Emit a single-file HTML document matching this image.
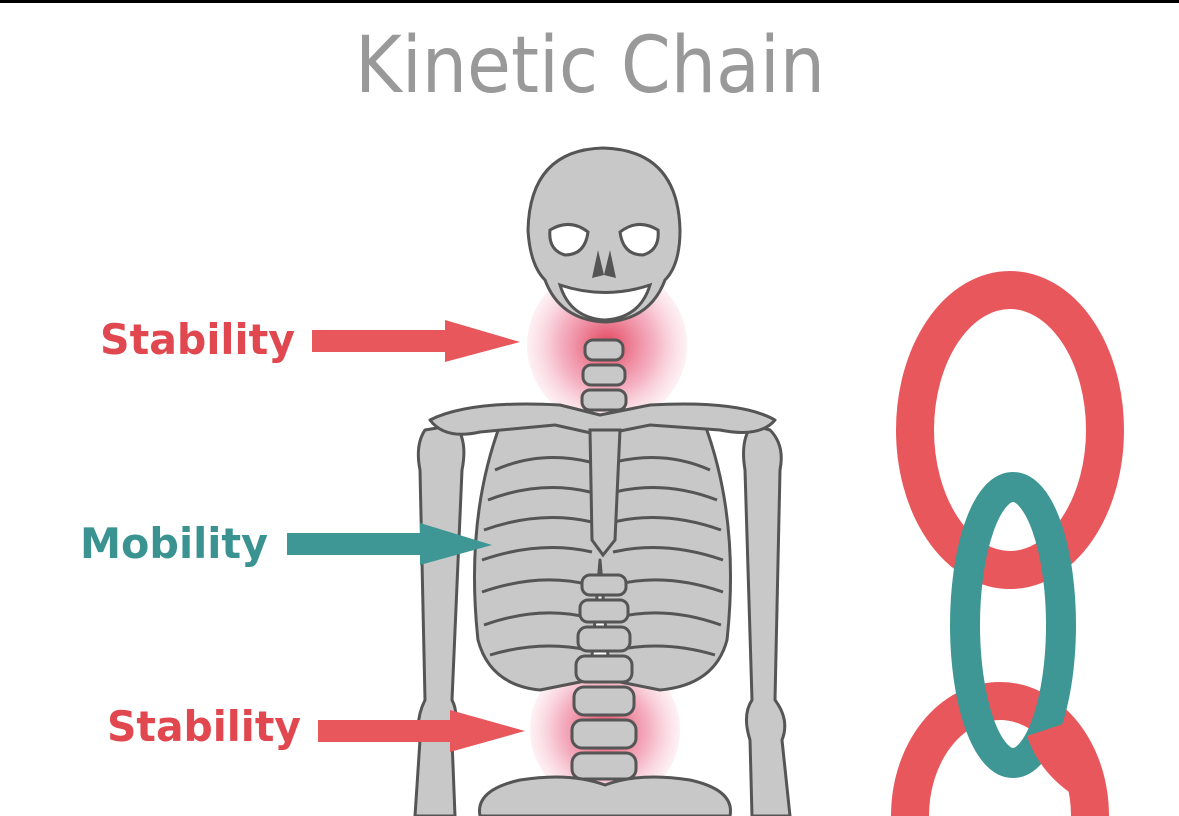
<!DOCTYPE html>
<html><head><style>
html,body{margin:0;padding:0;background:#fff;width:1179px;height:816px;overflow:hidden;}
body{position:relative;font-family:"DejaVu Sans","Liberation Sans",sans-serif;}
svg{display:block;}
</style></head><body>
<svg width="1179" height="816" viewBox="0 0 1179 816" xmlns="http://www.w3.org/2000/svg">
<defs>
<radialGradient id="rg"><stop offset="0" stop-color="#e0304a" stop-opacity="0.9"/><stop offset="0.6" stop-color="#e8557a" stop-opacity="0.45"/><stop offset="1" stop-color="#f3a0b8" stop-opacity="0.15"/></radialGradient>
<radialGradient id="tg"><stop offset="0" stop-color="#2aa7a8" stop-opacity="0.7"/><stop offset="1" stop-color="#aee0e0" stop-opacity="0.1"/></radialGradient>
</defs>
<rect x="0" y="0" width="1179" height="3" fill="#000"/>
<text x="355" y="92" font-size="78" fill="#999" textLength="470" lengthAdjust="spacingAndGlyphs">Kinetic Chain</text>

<circle cx="607" cy="345" r="80" fill="url(#rg)"/>
<circle cx="605" cy="730" r="75" fill="url(#rg)"/>
<ellipse cx="605" cy="540" rx="95" ry="65" fill="url(#tg)"/>

<g fill="#c8c8c8" stroke="#555" stroke-width="3" stroke-linejoin="round">
<path d="M425,430 Q415,445 420,470 L425,700 Q415,720 420,740 L415,816 L455,816 L452,740 Q460,715 452,700 L462,470 Q468,440 455,425 Z"/>
<path d="M770,430 Q785,445 780,470 L775,700 Q790,720 782,740 L790,816 L752,816 L750,740 Q742,715 752,700 L745,470 Q740,440 752,425 Z"/>
<path d="M500,425 Q465,520 478,640 Q490,685 540,690 L590,680 L600,560 L610,680 L660,690 Q715,685 727,640 Q740,520 705,425 Q650,410 605,425 Q555,410 500,425 Z"/>
<path d="M430,420 Q470,400 560,405 L600,415 L650,405 Q740,400 775,420 Q760,438 720,430 L650,425 L600,435 L555,425 L480,432 Q445,440 430,420 Z"/>
</g>
<g fill="none" stroke="#555" stroke-width="3">
<path d="M495,470 Q540,450 590,462"/><path d="M710,470 Q665,450 615,462"/>
<path d="M488,500 Q540,480 590,492"/><path d="M717,500 Q665,480 615,492"/>
<path d="M484,530 Q540,510 592,522"/><path d="M721,530 Q665,510 613,522"/>
<path d="M482,560 Q540,540 592,552"/><path d="M723,560 Q665,540 613,552"/>
<path d="M482,592 Q540,572 590,585"/><path d="M723,592 Q665,572 615,585"/>
<path d="M484,625 Q540,605 590,618"/><path d="M721,625 Q665,605 615,618"/>
<path d="M490,655 Q540,640 588,650"/><path d="M715,655 Q665,640 617,650"/>
</g>
<path d="M590,430 L620,430 L615,540 L603,555 L592,540 Z" fill="#c8c8c8" stroke="#555" stroke-width="3"/>
<g fill="#c8c8c8" stroke="#555" stroke-width="3">
<rect x="585" y="340" width="38" height="20" rx="8"/>
<rect x="583" y="365" width="42" height="20" rx="8"/>
<rect x="582" y="390" width="44" height="20" rx="8"/>
<rect x="582" y="575" width="44" height="20" rx="8"/>
<rect x="580" y="600" width="48" height="22" rx="8"/>
<rect x="578" y="627" width="52" height="24" rx="9"/>
<rect x="576" y="656" width="56" height="26" rx="9"/>
<rect x="574" y="687" width="60" height="28" rx="10"/>
<rect x="572" y="720" width="64" height="28" rx="10"/>
<rect x="572" y="753" width="64" height="26" rx="10"/>
<path d="M480,816 Q475,790 520,780 Q570,772 605,785 Q640,772 690,780 Q735,790 730,816 Z"/>
<path d="M603,148 Q530,150 528,230 Q530,265 545,280 Q560,320 605,322 Q650,320 665,280 Q680,265 680,230 Q678,150 603,148 Z"/>
</g>
<g fill="#fff" stroke="#555" stroke-width="3">
<path d="M550,230 Q570,218 588,232 Q585,255 565,255 Q548,250 550,230 Z"/>
<path d="M658,230 Q638,218 620,232 Q623,255 643,255 Q660,250 658,230 Z"/>
<path d="M560,285 Q605,300 650,285 Q640,318 605,320 Q570,318 560,285 Z"/>
</g>
<path d="M598,250 L604,275 L592,278 Z" fill="#555"/>
<path d="M610,250 L604,275 L616,278 Z" fill="#555"/>

<text x="100" y="354" font-size="42" font-weight="bold" fill="#e0474f" textLength="195" lengthAdjust="spacingAndGlyphs">Stability</text>
<polygon points="312,330 445,330 445,320 520,342 445,362 445,352 312,352" fill="#e8575c"/>
<text x="80" y="558" font-size="42" font-weight="bold" fill="#3a9391" textLength="188" lengthAdjust="spacingAndGlyphs">Mobility</text>
<polygon points="287,533 420,533 420,523 492,545 420,565 420,555 287,555" fill="#3e9794"/>
<text x="107" y="741" font-size="42" font-weight="bold" fill="#e0474f" textLength="194" lengthAdjust="spacingAndGlyphs">Stability</text>
<polygon points="318,720 450,720 450,710 525,731 450,752 450,742 318,742" fill="#e8575c"/>

<ellipse cx="1010" cy="430" rx="95" ry="140" fill="none" stroke="#e8575c" stroke-width="38"/>
<ellipse cx="1000" cy="816" rx="90" ry="115" fill="none" stroke="#e8575c" stroke-width="38"/>
<ellipse cx="1013" cy="625" rx="48" ry="138" fill="none" stroke="#3e9794" stroke-width="30"/>
<path d="M1045,730 Q1055,760 1085,780" fill="none" stroke="#e8575c" stroke-width="38"/>
</svg>
</body></html>
